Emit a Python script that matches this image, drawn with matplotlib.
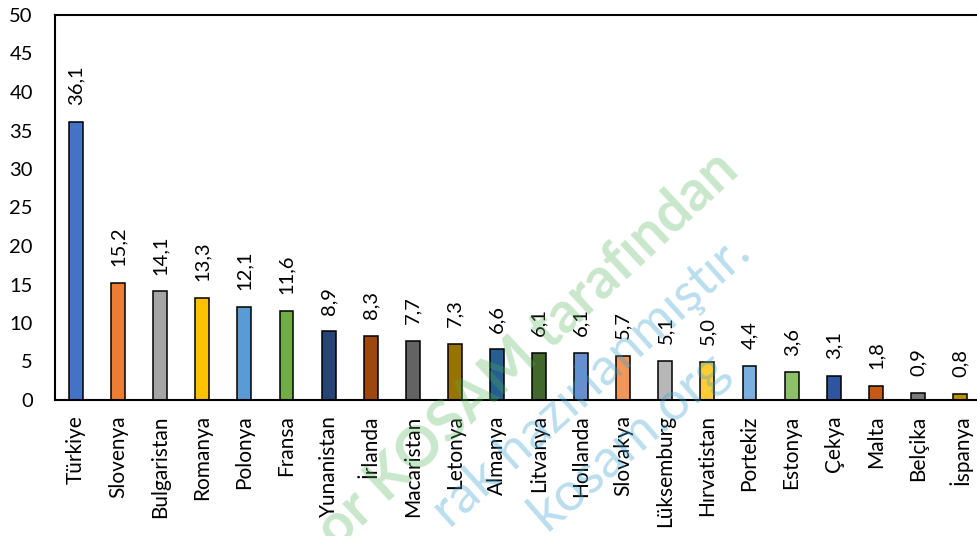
import matplotlib
matplotlib.use("Agg")
import matplotlib.pyplot as plt

# veriler
ulkeler = ["Türkiye", "Slovenya", "Bulgaristan", "Romanya", "Polonya", "Fransa",
           "Yunanistan", "İrlanda", "Macaristan", "Letonya", "Almanya", "Litvanya",
           "Hollanda", "Slovakya", "Lüksemburg", "Hırvatistan", "Portekiz", "Estonya",
           "Çekya", "Malta", "Belçika", "İspanya"]
degerler = [36.1, 15.2, 14.1, 13.3, 12.1, 11.6, 8.9, 8.3, 7.7, 7.3, 6.6, 6.1,
            6.1, 5.7, 5.1, 5.0, 4.4, 3.6, 3.1, 1.8, 0.9, 0.8]
renkler = ["#4472C4", "#ED7D31", "#A5A5A5", "#FFC000", "#5B9BD5", "#70AD47",
           "#264478", "#9E480E", "#636363", "#997300", "#255E91", "#43682B",
           "#698ED0", "#F1975A", "#B7B7B7", "#FFCD33", "#7CAFDD", "#8CC168",
           "#2F55A0", "#C55A11", "#7B7B7B", "#BF9000"]
y_ticks = list(range(0, 55, 5))

plt.rcParams['font.family'] = ['Lato', 'DejaVu Sans']

W, H = 977, 536
fig = plt.figure(figsize=(W / 100, H / 100), dpi=100)
ax = fig.add_axes([55 / W, 1 - 400 / H, 926 / W, 385 / H])

x = range(len(ulkeler))
ax.bar(x, degerler, width=0.33, color=renkler, edgecolor="black", linewidth=1.1, zorder=2)

for i, v in enumerate(degerler):
    ax.annotate(f"{v:.1f}".replace(".", ","), (i, v), xytext=(0, 12),
                textcoords="offset points", rotation=90, ha="center", va="bottom",
                fontsize=14.5, zorder=3)

ax.set_xlim(-0.5, len(ulkeler) - 0.5)
ax.set_ylim(0, 50)
ax.set_yticks(y_ticks)
ax.set_xticks(list(x))
ax.set_xticklabels(ulkeler, rotation=90, fontsize=15)
ax.tick_params(axis="y", length=0, pad=16, labelsize=14.5)
ax.tick_params(axis="x", length=0, pad=11)
ax.spines["right"].set_visible(False)
for s in ["left", "top", "bottom"]:
    ax.spines[s].set_linewidth(1.5)

# filigran (yari saydam, kenarda kesik - referanstaki gibi)
fig.text(528 / W, 1 - 350 / H, "or KOSAM tarafından", rotation=43, color="#4CAF50",
         alpha=0.3, fontsize=41, fontweight="bold", ha="center", va="center",
         rotation_mode="anchor", zorder=5)
fig.text(592 / W, 1 - 382 / H, "rak hazırlanmıştır.", rotation=42, color="#3BA0D0",
         alpha=0.35, fontsize=38, ha="center", va="center", rotation_mode="anchor", zorder=5)
fig.text(628 / W, 1 - 440 / H, "kosam.org", rotation=41, color="#3BA0D0",
         alpha=0.35, fontsize=39, ha="center", va="center", rotation_mode="anchor", zorder=5)

fig.savefig("out.png", dpi=100)
